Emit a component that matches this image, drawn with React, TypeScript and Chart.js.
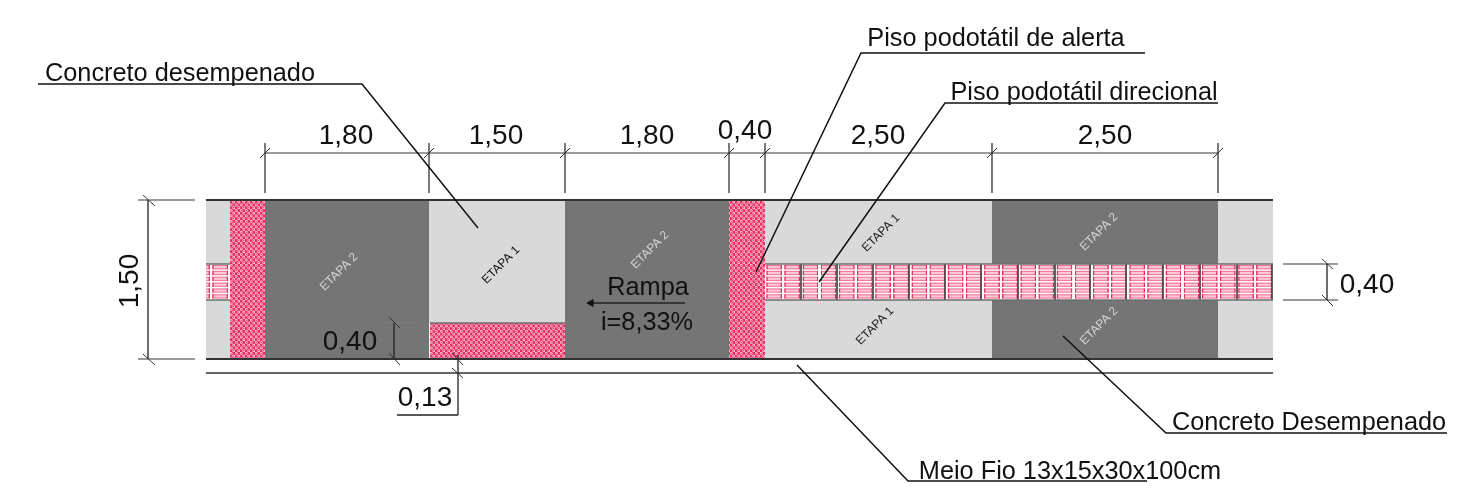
import React, { useEffect, useRef } from "react";
import { Chart, registerables } from "chart.js";

Chart.register(...registerables);

// All coordinates are in drawing units, read through hidden linear scales.
const DRAWING_W = 1464;
const DRAWING_H = 495;

type Box = [number, number, number, number];
const lightBoxes: Box[] = [
  [206, 230, 200, 359],
  [429, 565, 200, 323],
  [765, 992, 200, 359],
  [1218, 1273, 200, 359],
];
const darkBoxes: Box[] = [
  [265, 429, 200, 359],
  [565, 729, 200, 359],
  [992, 1218, 200, 359],
];
const alertBoxes: Box[] = [
  [230, 265, 200, 359],
  [430, 565, 323, 359],
  [729, 765, 200, 359],
];
const stubBox: Box = [206, 230, 264, 300];
const directionBox: Box = [765, 1273, 264, 300];

type Seg = [number, number, number, number];
const curbLines: Seg[] = [
  [206, 200, 1273, 200],
  [206, 359, 1273, 359],
];
const curbGreyLines: Seg[] = [[206, 373, 1273, 373]];
const stripEdges: Seg[] = [
  [206, 264, 230, 264],
  [206, 300, 230, 300],
  [765, 264, 1273, 264],
  [765, 300, 1273, 300],
  [430, 323, 565, 323],
];
const tileJoints = [801, 837, 873, 909, 945, 981, 1018, 1055, 1090, 1126, 1163, 1200, 1237, 1272];

const dimGrey: Seg[] = [
  [265, 153, 1219, 153],
  [138, 200, 195, 200],
  [138, 359, 195, 359],
  [1283, 264, 1338, 264],
  [1283, 300, 1338, 300],
  [383, 323, 419, 323],
];
const dimDark: Seg[] = [
  [148, 200, 148, 359],
  [1327, 264, 1327, 300],
  [394, 323, 394, 359],
  [458, 355, 458, 415],
  [397, 415, 458, 415],
];
const extensionX = [265, 429, 565, 729, 765, 992, 1218];
const extensionTop = 143;
const extensionBottom = 193;
const ticks: Seg[] = [
  [143, 195, 155, 206],
  [143, 354, 155, 365],
  [1322, 259, 1333, 269],
  [1322, 295, 1333, 306],
  [389, 317, 400, 328],
  [389, 353, 400, 365],
  [452, 353, 463, 365],
  [452, 368, 463, 378],
];
const tickRise = 5;

const leaders: [number, number][][] = [
  [[38, 84], [362, 84], [478, 228]],
  [[1145, 53], [861, 53], [756, 272]],
  [[1218, 103], [945, 103], [819, 282]],
  [[1063, 336], [1166, 433], [1447, 433]],
  [[797, 365], [908, 481], [1147, 481]],
];

const rampArrow: Seg = [591, 303, 685, 303];

type Label = [string, number, number, number, string, number];
const labels: Label[] = [
  ["Concreto desempenado", 180, 74, 25.3, "#111", 0],
  ["Piso podotátil de alerta", 996, 39, 25.3, "#111", 0],
  ["Piso podotátil direcional", 1084, 93, 25.3, "#111", 0],
  ["Concreto Desempenado", 1309, 423, 25.3, "#111", 0],
  ["Meio Fio 13x15x30x100cm", 1070, 472, 25.3, "#111", 0],
  ["1,80", 346, 136, 28, "#111", 0],
  ["1,50", 496, 136, 28, "#111", 0],
  ["1,80", 647, 136, 28, "#111", 0],
  ["0,40", 745, 131, 28, "#111", 0],
  ["2,50", 878, 136, 28, "#111", 0],
  ["2,50", 1105, 136, 28, "#111", 0],
  ["1,50", 130, 281, 28, "#111", -90],
  ["0,40", 350, 342, 28, "#111", 0],
  ["0,13", 425, 398, 28, "#111", 0],
  ["0,40", 1367, 285, 28, "#111", 0],
  ["Rampa", 648, 288, 25.3, "#111", 0],
  ["i=8,33%", 647, 323, 25.3, "#111", 0],
  ["ETAPA 2", 339, 272, 12, "#d4d4d4", -45],
  ["ETAPA 1", 501, 265, 12, "#111", -45],
  ["ETAPA 2", 650, 250, 12, "#d4d4d4", -45],
  ["ETAPA 1", 881, 233, 12, "#222", -45],
  ["ETAPA 1", 875, 326, 12, "#222", -45],
  ["ETAPA 2", 1099, 232, 12, "#d4d4d4", -45],
  ["ETAPA 2", 1099, 326, 12, "#d4d4d4", -45],
];

const LIGHT = "#d9d9d9";
const DARK = "#757575";

function alertPattern(ctx: CanvasRenderingContext2D): CanvasPattern {
  const s = 2;
  const c = document.createElement("canvas");
  c.width = 10;
  c.height = 11;
  const g = c.getContext("2d")!;
  g.fillStyle = "#e92e63";
  g.fillRect(0, 0, c.width, c.height);
  const ring = (x: number, y: number) => {
    g.beginPath();
    g.arc(x, y, 1.05 * s, 0, Math.PI * 2);
    g.strokeStyle = "#fdd3de";
    g.lineWidth = 0.75 * s;
    g.stroke();
  };
  ring(c.width * 0.25, c.height * 0.25);
  ring(c.width * 0.75, c.height * 0.75);
  const p = ctx.createPattern(c, "repeat")!;
  p.setTransform(new DOMMatrix().scale(1 / s, 1 / s));
  return p;
}

function directionPattern(ctx: CanvasRenderingContext2D, originX: number): CanvasPattern {
  const s = 2;
  const tw = 36.3;
  const th = 36;
  const c = document.createElement("canvas");
  c.width = Math.round(tw * s);
  c.height = Math.round(th * s);
  const g = c.getContext("2d")!;
  g.fillStyle = "#ffffff";
  g.fillRect(0, 0, c.width, c.height);
  for (let col = 0; col < 2; col++) {
    const x0 = (1.4 + col * 18.1) * s;
    const w = 15.6 * s;
    for (let row = 0; row < 6; row++) {
      const y0 = (0.9 + row * 5.85) * s;
      const h = 4.4 * s;
      g.fillStyle = "#f27a9b";
      g.fillRect(x0, y0, w, h);
      g.fillStyle = "#fbcbd8";
      g.fillRect(x0 + 1.2 * s, y0 + 1.2 * s, w - 2.4 * s, h - 2.4 * s);
      g.fillStyle = "#e6295c";
      g.fillRect(x0, y0, 1.2 * s, h);
      g.fillRect(x0 + w - 1.2 * s, y0, 1.2 * s, h);
    }
  }
  const p = ctx.createPattern(c, "repeat")!;
  p.setTransform(new DOMMatrix().translate(originX, 264).scale(tw / c.width, th / c.height));
  return p;
}

const labelsPlugin = {
  id: "drawingLabels",
  afterDatasetsDraw(chart: any) {
    const { ctx, scales } = chart;
    for (const [text, x, y, size, color, rot] of labels) {
      ctx.save();
      ctx.translate(scales.x.getPixelForValue(x), scales.y.getPixelForValue(y));
      ctx.rotate((rot * Math.PI) / 180);
      ctx.font = `${size}px "Liberation Sans"`;
      ctx.fillStyle = color;
      ctx.textAlign = "center";
      ctx.textBaseline = "middle";
      ctx.fillText(text, 0, 0);
      ctx.restore();
    }
  },
};

const boxDataset = ([x0, x1, y0, y1]: Box, fillStyle: any) => ({
  data: [
    { x: x0, y: y0 },
    { x: x1, y: y0 },
  ],
  backgroundColor: fillStyle,
  borderWidth: 0,
  pointRadius: 0,
  fill: { value: y1 },
});

const lineDataset = (pts: [number, number][], color: string, width: number) => ({
  data: pts.map(([x, y]) => ({ x, y })),
  borderColor: color,
  borderWidth: width,
  pointRadius: 0,
  fill: false,
  tension: 0,
  borderCapStyle: "butt",
  borderJoinStyle: "miter",
});

const seg = ([a, b, c, d]: Seg, color: string, width: number) =>
  lineDataset([[a, b], [c, d]], color, width);

export default function App() {
  const ref = useRef<HTMLCanvasElement>(null);
  useEffect(() => {
    document.body.style.margin = "0";
    const canvas = ref.current!;
    const ctx = canvas.getContext("2d")!;
    const alert = alertPattern(ctx);
    const paintOrder: any[] = [
      ...lightBoxes.map((b) => boxDataset(b, LIGHT)),
      ...darkBoxes.map((b) => boxDataset(b, DARK)),
      ...alertBoxes.map((b) => boxDataset(b, alert)),
      boxDataset(stubBox, directionPattern(ctx, 193)),
      boxDataset(directionBox, directionPattern(ctx, 765)),
      ...tileJoints.map((x) => seg([x, 264, x, 300], "#4a4a4a", 1)),
      ...stripEdges.map((s) => seg(s, "#6e6e6e", 1.5)),
      ...curbLines.map((s) => seg(s, "#333333", 2)),
      ...curbGreyLines.map((s) => seg(s, "#666666", 2)),
      ...dimGrey.map((s) => seg(s, "#7a7a7a", 1.5)),
      ...dimDark.map((s) => seg(s, "#222222", 1.3)),
      ...extensionX.map((x) => seg([x, extensionTop, x, extensionBottom], "#222222", 1.2)),
      ...extensionX.map((x) =>
        seg([x - tickRise, 153 + tickRise, x + tickRise, 153 - tickRise], "#333333", 1)
      ),
      ...ticks.map((s) => seg(s, "#333333", 1)),
      ...leaders.map((l) => lineDataset(l, "#111111", 1.5)),
      seg(rampArrow, "#222222", 1.5),
      {
        data: [{ x: rampArrow[0], y: rampArrow[1] }],
        pointStyle: "triangle",
        rotation: -90,
        pointRadius: 4,
        backgroundColor: "#111111",
        borderColor: "#111111",
        showLine: false,
      },
    ];
    const chart = new Chart(canvas, {
      type: "line",
      data: { datasets: paintOrder.slice().reverse() },
      options: {
        animation: false,
        responsive: false,
        devicePixelRatio: 1,
        layout: { padding: 0, autoPadding: false },
        events: [],
        plugins: { legend: { display: false }, tooltip: { enabled: false } },
        scales: {
          x: { type: "linear", display: false, min: 0, max: DRAWING_W },
          y: { type: "linear", display: false, min: 0, max: DRAWING_H, reverse: true },
        },
      },
      plugins: [labelsPlugin],
    } as any);
    return () => chart.destroy();
  }, []);
  return <canvas ref={ref} width={DRAWING_W} height={DRAWING_H} style={{ display: "block" }} />;
}
